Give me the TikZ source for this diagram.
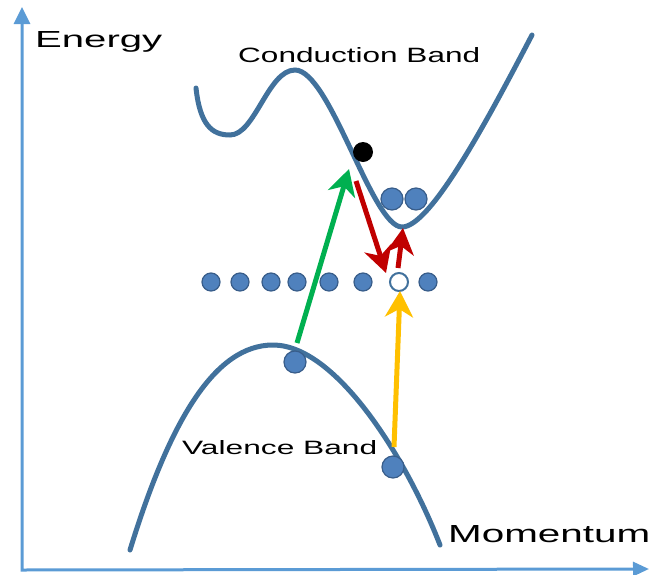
\documentclass[tikz,border=0pt]{standalone}
\usepackage{fontspec}
\setmainfont{Liberation Sans}
\usetikzlibrary{arrows.meta}
\definecolor{bandblue}{RGB}{65,113,156}
\definecolor{axisblue}{RGB}{91,155,213}
\definecolor{dotfill}{RGB}{79,129,189}
\definecolor{dotline}{RGB}{56,93,138}
\definecolor{arrgreen}{RGB}{0,176,80}
\definecolor{arrred}{RGB}{192,0,0}
\definecolor{arryellow}{RGB}{255,192,0}
\begin{document}
\begin{tikzpicture}[x=1pt,y=-1pt,
  band/.style={draw=bandblue, line width=5pt, line cap=round},
  axisline/.style={draw=axisblue, line width=3pt, line join=miter},
  electron/.style={circle, fill=dotfill, draw=dotline, line width=1.2pt, minimum size=22pt, inner sep=0pt},
  leveldot/.style={circle, fill=dotfill, draw=dotline, line width=1.2pt, minimum size=18pt, inner sep=0pt},
  holedot/.style={leveldot, fill=white, draw=bandblue, line width=2pt},
  blackdot/.style={circle, fill=black, minimum size=20pt, inner sep=0pt},
  trans/.style={line width=5pt, -{Stealth[length=26pt,width=28pt,inset=8pt]}},
  txt/.style={anchor=base west, inner sep=0pt, text=black}]
\useasboundingbox (0,0) rectangle (665,574);

% axes
\coordinate (ytop) at (22,7);
\coordinate (O) at (22,570);
\coordinate (xend) at (649,569);
\draw[axisline, {Triangle[length=17pt,width=16pt]}-{Triangle[length=16pt,width=14pt]}] (ytop) -- (O) -- (xend);

% labels
\node[txt] (energy) at (35,47) {\resizebox{127pt}{16pt}{Energy}};
\node[txt] (cb) at (238,62) {\resizebox{242pt}{15pt}{Conduction Band}};
\node[txt] (vb) at (182,454) {\resizebox{195pt}{14pt}{Valence Band}};
\node[txt] (mom) at (448,542) {\resizebox{202pt}{17pt}{Momentum}};

% conduction band
\draw[band] (196,88) .. controls (200,125) and (212,135) .. (230,135)
  .. controls (255,135) and (268,70) .. (295,70)
  .. controls (330,70) and (372,227) .. (402,227)
  .. controls (430,227) and (485,125) .. (532,35);

% valence band
\draw[band] (130,550) .. controls (170,420) and (215,345) .. (273,345)
  .. controls (335,345) and (405,455) .. (440,545);

% carriers
\node[blackdot] (bk) at (363,152) {};
\node[electron] (c1) at (392,199) {};
\node[electron] (c2) at (416,199) {};
\node[electron] (v1) at (295,362) {};
\node[electron] (v2) at (393,467) {};

% impurity level
\foreach \n/\x in {1/211,2/240,3/271,4/297,5/329,6/363,8/428}
  \node[leveldot] (d\n) at (\x,282) {};
\node[holedot] (d7) at (399,282) {};

% transitions
\coordinate (gs) at (297,343);
\coordinate (ge) at (349,169);
\coordinate (r1s) at (356,181);
\coordinate (r1e) at (386,273);
\coordinate (r2s) at (398,268);
\coordinate (r2e) at (403,228);
\coordinate (ys) at (394,447);
\coordinate (ye) at (400,291);
\draw[trans, arrgreen] (gs) -- (ge);
\draw[trans, arryellow] (ys) -- (ye);
\draw[trans, arrred] (r1s) -- (r1e);
\draw[trans, arrred] (r2s) -- (r2e);
\end{tikzpicture}
\end{document}
